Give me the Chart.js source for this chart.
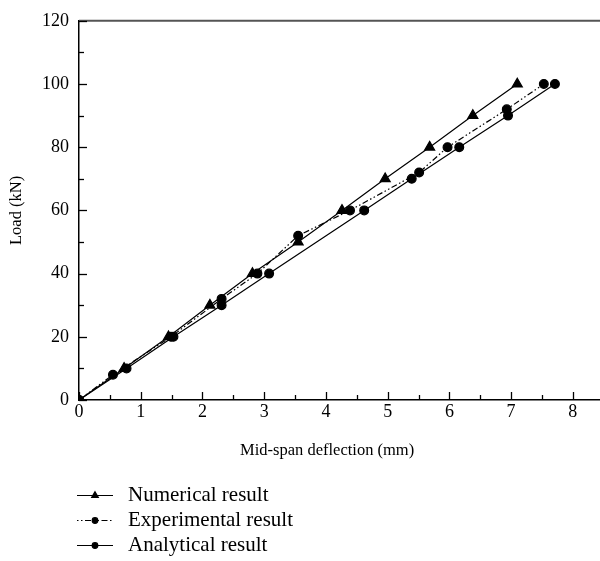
<!DOCTYPE html>
<html>
<head>
<meta charset="utf-8">
<script src="https://cdn.jsdelivr.net/npm/chart.js@4.4.1/dist/chart.umd.min.js"></script>
<style>
  html, body { margin: 0; padding: 0; background: #fff; }
  #wrap { width: 600px; height: 561px; position: relative; }
</style>
</head>
<body>
<div id="wrap"><canvas id="c" width="600" height="561"></canvas></div>
<script>
// ---- data ----
const seriesNames = ['Numerical result', 'Experimental result', 'Analytical result'];

const numericalX = [0, 0.73, 1.45, 2.12, 2.81, 3.55, 4.26, 4.96, 5.68, 6.38, 7.10];
const numericalY = [0, 10, 20, 30, 40, 50, 60, 70, 80, 90, 100];

const experimentalX = [0, 0.55, 1.49, 2.31, 2.89, 3.55, 4.39, 5.51, 5.97, 6.93, 7.53];
const experimentalY = [0, 8, 20, 32, 40, 52, 60, 72, 80, 92, 100];

const analyticalX = [0, 0.77, 1.53, 2.31, 3.08, 4.62, 5.39, 6.16, 6.95, 7.71];
const analyticalY = [0, 10, 20, 30, 40, 60, 70, 80, 90, 100];

const xTickLabels = ['0', '1', '2', '3', '4', '5', '6', '7', '8'];
const yTickLabels = ['0', '20', '40', '60', '80', '100', '120'];

const xTitle = 'Mid-span deflection (mm)';
const yTitle = 'Load (kN)';

// ---- build ----
const FONT = "'Liberation Serif', 'Times New Roman', serif";
const pts = (xs, ys) => xs.map((x, i) => ({ x: x, y: ys[i] }));

const datasets = [
  {
    label: seriesNames[0], data: pts(numericalX, numericalY),
    borderColor: '#000', backgroundColor: '#000', borderWidth: 1.2,
    pointStyle: 'triangle', pointRadius: 5.8, pointHoverRadius: 5.8,
    showLine: true, tension: 0, legendMarker: 3.8
  },
  {
    label: seriesNames[1], data: pts(experimentalX, experimentalY),
    borderColor: '#000', backgroundColor: '#000', borderWidth: 1.2,
    borderDash: [6, 2.5, 1.5, 2.5, 1.5, 2.5],
    pointStyle: 'circle', pointRadius: 4.4, pointHoverRadius: 4.4,
    showLine: true, tension: 0, legendMarker: 2.8
  },
  {
    label: seriesNames[2], data: pts(analyticalX, analyticalY),
    borderColor: '#000', backgroundColor: '#000', borderWidth: 1.2,
    pointStyle: 'circle', pointRadius: 4.4, pointHoverRadius: 4.4,
    showLine: true, tension: 0, legendMarker: 2.8
  }
];

// inward ticks + top frame line
const framePlugin = {
  id: 'frame',
  afterDraw(chart) {
    const ctx = chart.ctx;
    const area = chart.chartArea;
    const xs = chart.scales.x, ys = chart.scales.y;
    ctx.save();
    ctx.strokeStyle = '#555';
    ctx.lineWidth = 2;
    ctx.beginPath();
    ctx.moveTo(area.left, area.top);
    ctx.lineTo(area.right, area.top);
    ctx.stroke();
    ctx.strokeStyle = '#000';
    ctx.lineWidth = 1.3;
    xs.ticks.forEach(t => {
      const v = t.value;
      if (Math.abs(v * 2 - Math.round(v * 2)) > 1e-6 || v > 8.0001) return;
      const major = Math.abs(v - Math.round(v)) < 1e-6;
      const px = Math.round(xs.getPixelForValue(v)) + 0.5;
      ctx.beginPath();
      ctx.moveTo(px, area.bottom);
      ctx.lineTo(px, area.bottom - (major ? 8 : 5));
      ctx.stroke();
    });
    ys.ticks.forEach(t => {
      const v = t.value;
      const major = Math.abs(v % 20) < 1e-6;
      const py = Math.round(ys.getPixelForValue(v)) + 0.5;
      ctx.beginPath();
      ctx.moveTo(area.left, py);
      ctx.lineTo(area.left + (major ? 8 : 5), py);
      ctx.stroke();
    });
    ctx.restore();
  }
};

// vertical legend under the axis
const legendPlugin = {
  id: 'stackLegend',
  afterDraw(chart) {
    const ctx = chart.ctx;
    const x0 = 77, x1 = 113, tx = 128;
    const rows = [495, 520, 545];
    ctx.save();
    chart.data.datasets.forEach((ds, i) => {
      const y = rows[i] + 0.5;
      ctx.strokeStyle = ds.borderColor;
      ctx.lineWidth = 1.2;
      ctx.setLineDash(ds.borderDash ? [1.5, 2.5, 1.5, 2.5, 6, 2.5] : []);
      ctx.beginPath();
      ctx.moveTo(x0, y);
      ctx.lineTo(x1, y);
      ctx.stroke();
      ctx.setLineDash([]);
      Chart.helpers.drawPoint(ctx, {
        pointStyle: ds.pointStyle, radius: ds.legendMarker, rotation: 0, borderWidth: 1
      }, (x0 + x1) / 2, y);
      ctx.fillStyle = '#000';
      ctx.font = "21px " + FONT;
      ctx.textBaseline = 'middle';
      ctx.textAlign = 'left';
      ctx.fillText(ds.label, tx, rows[i]);
    });
    ctx.restore();
  }
};

new Chart(document.getElementById('c'), {
  type: 'scatter',
  data: { datasets: datasets },
  plugins: [framePlugin, legendPlugin],
  options: {
    responsive: false,
    animation: false,
    events: [],
    layout: { autoPadding: false, padding: { left: 0, right: 0, top: 20, bottom: 100 } },
    plugins: { legend: { display: false }, tooltip: { enabled: false } },
    scales: {
      x: {
        type: 'linear', min: 0, max: 8.44,
        afterFit: s => { s.height = 61; s.paddingRight = 0; s.paddingLeft = 0; },
        grid: { drawOnChartArea: false, drawTicks: false },
        border: { display: true, color: '#000', width: 1.5 },
        ticks: {
          stepSize: 0.5, padding: 1, color: '#000', includeBounds: false,
          autoSkip: false, maxRotation: 0,
          font: { family: FONT, size: 18 },
          callback: v => {
            const k = xTickLabels.indexOf(String(v));
            return k >= 0 ? xTickLabels[k] : '';
          }
        },
        title: {
          display: true, text: xTitle + '      ', color: '#000',
          font: { family: FONT, size: 16.5 }, padding: { top: 0, bottom: 0 }
        }
      },
      y: {
        type: 'linear', min: 0, max: 120,
        afterFit: s => { s.width = 79; },
        grid: { drawOnChartArea: false, drawTicks: false },
        border: { display: true, color: '#000', width: 1.5 },
        ticks: {
          stepSize: 10, padding: 10, color: '#000',
          font: { family: FONT, size: 18 },
          callback: v => {
            const k = yTickLabels.indexOf(String(v));
            return k >= 0 ? yTickLabels[k] : '';
          }
        },
        title: {
          display: true, text: yTitle, color: '#000',
          font: { family: FONT, size: 16.5 }, padding: { top: 7, bottom: 0 }
        }
      }
    }
  }
});
</script>
</body>
</html>
